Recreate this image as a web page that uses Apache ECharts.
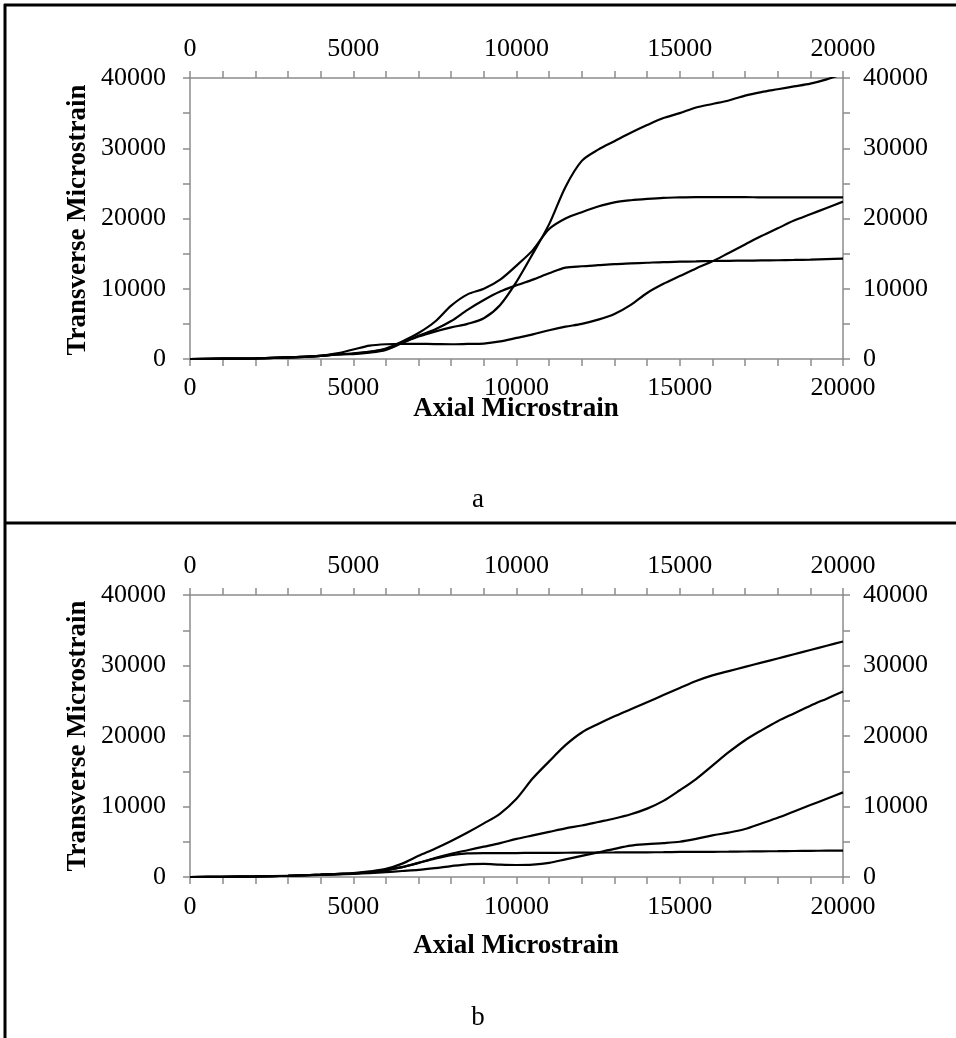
<!DOCTYPE html>
<html><head><meta charset="utf-8">
<script src="https://cdn.jsdelivr.net/npm/echarts@6/dist/echarts.min.js"></script>
<style>html,body{margin:0;padding:0;background:#fff}#c{width:956px;height:1038px}</style>
</head><body><div id="c"></div>
<script>
// Shared axial microstrain sample points (x values)
const axial = [0,1000,2000,3000,4000,4500,5000,5500,6000,6500,7000,7500,8000,8500,9000,9500,10000,10500,11000,11500,12000,12500,13000,13500,14000,14500,15000,15500,16000,16500,17000,17500,18000,18500,19000,19500,20000];

// Panel a: transverse microstrain
const aCurve1 = [0,40,100,220,450,650,750,1000,1400,2300,3200,3900,4500,5000,5800,7700,11000,15000,19200,24500,28200,29800,31000,32200,33300,34300,35000,35800,36300,36800,37500,38000,38400,38800,39200,39800,40600];
const aCurve2 = [0,40,100,220,450,650,800,1050,1500,2500,3700,5300,7600,9200,10000,11300,13300,15500,18500,20000,20900,21700,22300,22600,22800,22950,23000,23050,23050,23050,23050,23000,23000,23000,23000,23000,23000];
const aCurve3 = [0,40,100,220,450,650,700,900,1300,2300,3300,4200,5400,7000,8400,9600,10500,11300,12200,13000,13200,13350,13500,13600,13700,13800,13850,13900,13950,13980,14000,14030,14060,14100,14150,14220,14300];
const aCurve4 = [0,40,100,220,450,800,1350,1900,2100,2150,2150,2130,2100,2150,2200,2500,3000,3500,4100,4600,5000,5600,6400,7700,9400,10700,11800,12900,13900,15100,16300,17500,18600,19700,20600,21500,22400];

// Panel b: transverse microstrain
const bCurve1 = [0,30,80,180,330,450,550,800,1150,1900,3000,4000,5100,6300,7600,9000,11100,14000,16400,18700,20500,21700,22800,23800,24800,25800,26800,27800,28600,29200,29800,30400,31000,31600,32200,32800,33400];
const bCurve2 = [0,30,80,180,330,420,500,700,1000,1400,2000,2700,3300,3800,4300,4800,5400,5900,6400,6900,7300,7800,8300,8900,9700,10800,12300,13900,15800,17700,19400,20800,22100,23200,24300,25300,26300];
const bCurve3 = [0,30,80,180,330,420,500,700,950,1400,2000,2600,3100,3350,3400,3400,3400,3420,3430,3440,3450,3470,3480,3490,3500,3520,3550,3560,3570,3590,3620,3640,3660,3690,3710,3730,3750];
const bCurve4 = [0,30,80,180,300,380,450,560,700,850,1000,1250,1550,1800,1850,1750,1700,1750,2000,2500,3000,3500,4000,4450,4650,4800,5000,5400,5900,6300,6800,7600,8400,9300,10200,11100,12000];

const xTitle = 'Axial Microstrain';
const yTitle = 'Transverse Microstrain';
const panelLabels = ['a', 'b'];

const FONT = '"Liberation Serif","Times New Roman",serif';
const AX = '#8c8c8c';
const plain = v => String(v);

function xAx(grid, pos, margin) {
  return {
    type: 'value', gridIndex: grid, position: pos, min: 0, max: 20000, interval: 5000,
    axisLine: {show: true, onZero: false, lineStyle: {color: AX, width: 1.5}},
    axisTick: {show: true, length: 7, inside: false, lineStyle: {color: AX, width: 1.5}},
    minorTick: {show: true, splitNumber: 5, length: 7, lineStyle: {color: AX, width: 1.5}},
    splitLine: {show: false}, minorSplitLine: {show: false},
    axisLabel: {color: '#000', fontFamily: FONT, fontSize: 26, margin: margin, formatter: plain}
  };
}
function yAx(grid, pos, margin) {
  return {
    type: 'value', gridIndex: grid, position: pos, min: 0, max: 40000, interval: 10000,
    axisLine: {show: true, onZero: false, lineStyle: {color: AX, width: 1.5}},
    axisTick: {show: true, length: 7, inside: false, lineStyle: {color: AX, width: 1.5}},
    minorTick: {show: true, splitNumber: 2, length: 7, lineStyle: {color: AX, width: 1.5}},
    splitLine: {show: false}, minorSplitLine: {show: false},
    axisLabel: {color: '#000', fontFamily: FONT, fontSize: 26, margin: margin, formatter: plain}
  };
}
function ser(ys, xi, yi) {
  return {
    type: 'line', xAxisIndex: xi, yAxisIndex: yi,
    data: axial.map((x, i) => [x, ys[i]]),
    showSymbol: false, smooth: 0.3, clip: true,
    lineStyle: {color: '#000', width: 2.2}, itemStyle: {color: '#000'}
  };
}

const chart = echarts.init(document.getElementById('c'), null, {renderer: 'canvas'});
chart.setOption({
  animation: false,
  backgroundColor: '#fff',
  grid: [
    {left: 190, top: 78, width: 653, height: 281},
    {left: 190, top: 595, width: 653, height: 282}
  ],
  xAxis: [xAx(0, 'bottom', 16), xAx(0, 'top', 16), xAx(1, 'bottom', 17), xAx(1, 'top', 16)],
  yAxis: [yAx(0, 'left', 24), yAx(0, 'right', 20), yAx(1, 'left', 24), yAx(1, 'right', 20)],
  series: [
    ser(aCurve1, 0, 0), ser(aCurve2, 0, 0), ser(aCurve3, 0, 0), ser(aCurve4, 0, 0),
    ser(bCurve1, 2, 2), ser(bCurve2, 2, 2), ser(bCurve3, 2, 2), ser(bCurve4, 2, 2)
  ],
  graphic: [
    {type: 'line', shape: {x1: 5, y1: 4, x2: 5, y2: 1038}, style: {stroke: '#000', lineWidth: 3}},
    {type: 'line', shape: {x1: 4, y1: 5, x2: 956, y2: 5}, style: {stroke: '#000', lineWidth: 3}},
    {type: 'line', shape: {x1: 4, y1: 523, x2: 956, y2: 523}, style: {stroke: '#000', lineWidth: 3}},
    {type: 'text', x: 516, y: 409, style: {text: xTitle, font: 'bold 27px ' + FONT, fill: '#000', textAlign: 'center', textVerticalAlign: 'middle'}},
    {type: 'text', x: 516, y: 946, style: {text: xTitle, font: 'bold 27px ' + FONT, fill: '#000', textAlign: 'center', textVerticalAlign: 'middle'}},
    {type: 'text', x: 78, y: 220, rotation: Math.PI / 2, style: {text: yTitle, font: 'bold 27px ' + FONT, fill: '#000', textAlign: 'center', textVerticalAlign: 'middle'}},
    {type: 'text', x: 78, y: 736, rotation: Math.PI / 2, style: {text: yTitle, font: 'bold 27px ' + FONT, fill: '#000', textAlign: 'center', textVerticalAlign: 'middle'}},
    {type: 'text', x: 478, y: 500, style: {text: panelLabels[0], font: '27px ' + FONT, fill: '#000', textAlign: 'center', textVerticalAlign: 'middle'}},
    {type: 'text', x: 478, y: 1018, style: {text: panelLabels[1], font: '27px ' + FONT, fill: '#000', textAlign: 'center', textVerticalAlign: 'middle'}}
  ]
});
</script>
</body></html>
